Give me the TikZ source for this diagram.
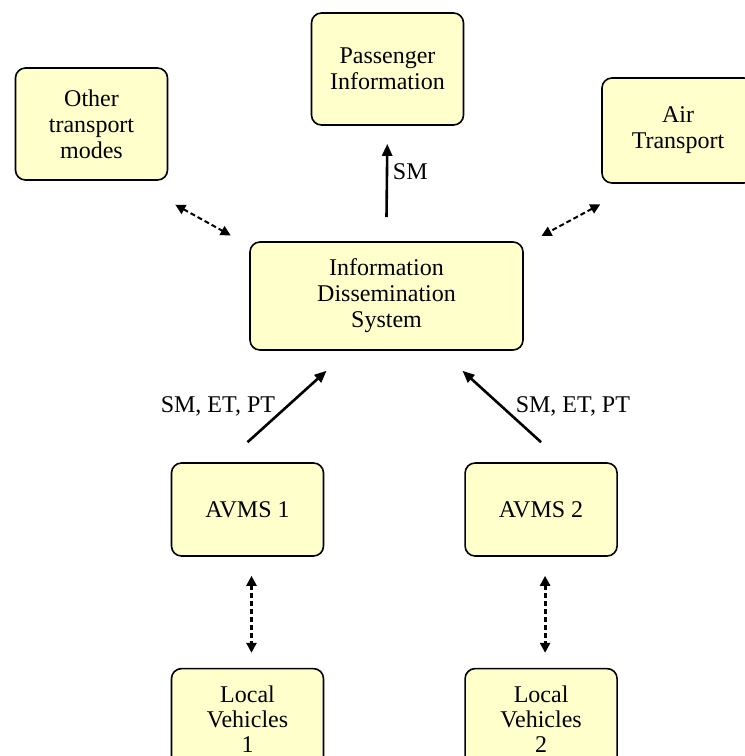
\documentclass[tikz,border=0pt]{standalone}
\usepackage{fontspec}
\setmainfont{Liberation Serif}
\usetikzlibrary{arrows.meta,positioning}
\definecolor{boxfill}{RGB}{255,255,204}

\begin{document}
\begin{tikzpicture}[x=0.5pt,y=-0.5pt,
    box/.style={draw, line width=0.8pt, rounded corners=5pt, fill=boxfill,
      align=center, inner sep=0pt, minimum width=76pt, minimum height=55pt,
      font=\fontsize{12}{13}\selectfont},
    flow/.style={-{Triangle[length=6pt,width=5pt]}, line width=1.3pt},
    link/.style={{Triangle[length=5pt,width=5pt]}-{Triangle[length=5pt,width=5pt]},
      line width=1pt, dash pattern=on 2.5pt off 1.5pt},
    lbl/.style={font=\fontsize{12}{13}\selectfont}]
    \useasboundingbox (0,0) rectangle (745,756);
    \clip (0,0) rectangle (745,756);
    \fill[white] (0,0) rectangle (745,756);
    % top row
    \node[box, minimum height=56pt] (pass) at (387.5,69) {Passenger\\Information};
    \node[box, minimum height=56pt] (other) at (91.5,124) {Other\\transport\\modes};
    \node[box, minimum height=52.5pt] (air) at (678,130.5) {Air\\Transport};
    % centre
    \node[box, minimum width=136.5pt, minimum height=54pt] (ids) at (386.5,296) {Information\\Dissemination\\System};
    % AVMS and vehicles
    \node[box, minimum height=46.5pt] (avms1) at (247.5,509.5) {AVMS 1};
    \node[box, minimum height=46.5pt] (avms2) [right=70pt of avms1] {AVMS 2};
    \node[box, minimum height=51pt, font=\fontsize{12}{12.5}\selectfont] (veh1) [below=55.5pt of avms1] {Local\\Vehicles\\1};
    \node[box, minimum height=51pt, font=\fontsize{12}{12.5}\selectfont] (veh2) [below=55.5pt of avms2] {Local\\Vehicles\\2};
    \path[flow]
    ([yshift=12pt]ids.north) edge [shorten >=9pt] node[lbl, right, xshift=-1pt] {SM} (pass.south)
    ([yshift=10pt]avms1.north) edge node[lbl, left, xshift=-2pt] {SM, ET, PT} ([shift={(-30pt,-10pt)}]ids.south)
    ([yshift=10pt]avms2.north) edge node[lbl, right, xshift=3pt] {SM, ET, PT} ([shift={(38pt,-10pt)}]ids.south);
    \path[link]
    ([yshift=-10pt]other.south east) edge [shorten <=4pt, shorten >=6pt] ([xshift=-4pt]ids.north west)
    ([yshift=-10pt]air.south west) edge [shorten <=0.5pt, shorten >=5.5pt] ([xshift=4pt]ids.north east)
    ([xshift=2pt]avms1.south) edge [shorten <=9.5pt, shorten >=7.5pt, line width=1.4pt] ([xshift=2pt]veh1.north)
    ([xshift=2pt]avms2.south) edge [shorten <=9.5pt, shorten >=7.5pt, line width=1.4pt] ([xshift=2pt]veh2.north);
\end{tikzpicture}
\end{document}
